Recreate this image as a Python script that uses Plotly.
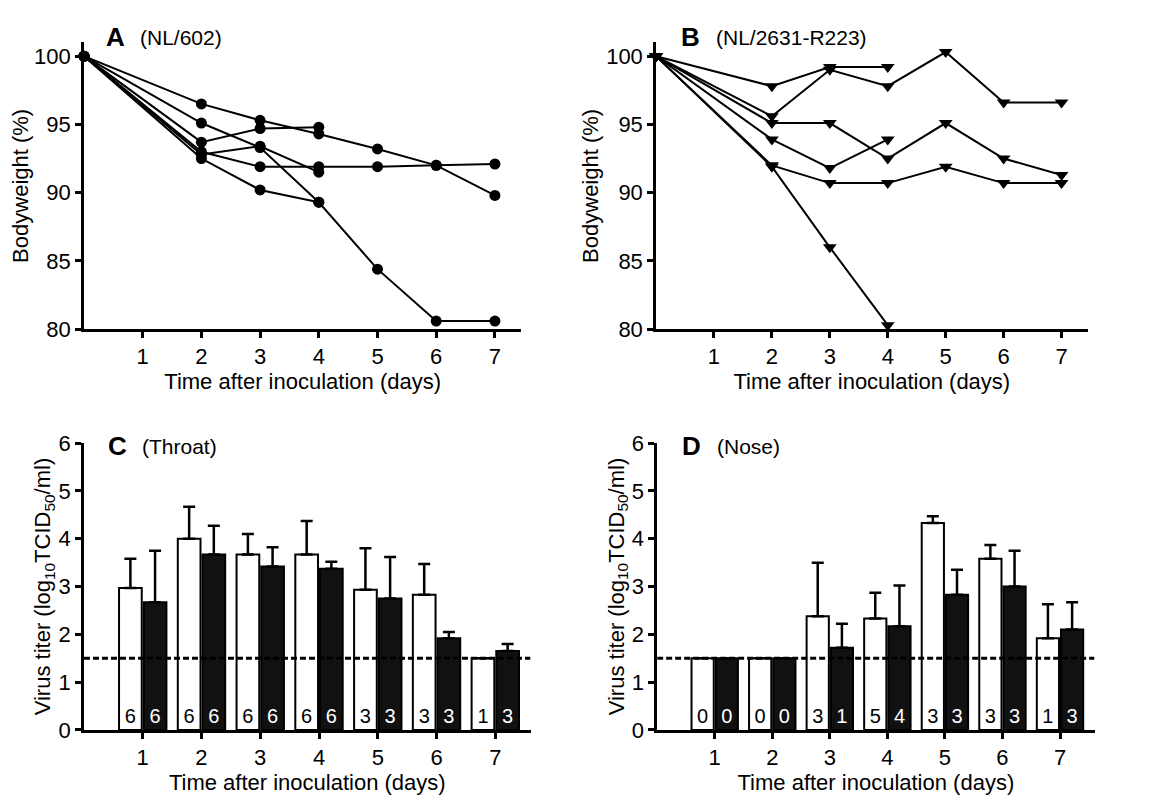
import plotly.graph_objects as go

days = [0, 2, 3, 4, 5, 6, 7]

# panel A (NL/602) bodyweight, one list per animal
a_lines = [
    [100, 96.5, 95.3, 94.3, 93.2, 92.0, 89.8],
    [100, 93.7, 94.7, 94.8],
    [100, 95.1, 93.3, 89.3, 84.4, 80.6, 80.6],
    [100, 93.0, 91.9, 91.9, 91.9, 92.0, 92.1],
    [100, 92.5, 90.2, 89.3],
    [100, 92.8, 93.4, 91.5],
]
# panel B (NL/2631-R223)
b_lines = [
    [100, 97.8, 99.2, 99.2],
    [100, 95.6, 99.0, 97.8, 100.3, 96.6, 96.6],
    [100, 95.1, 95.1, 92.5, 95.1, 92.5, 91.3],
    [100, 93.9, 91.8, 93.9],
    [100, 92.0, 90.7, 90.7, 91.9, 90.7, 90.7],
    [100, 91.9, 86.0, 80.3],
]

bar_days = [1, 2, 3, 4, 5, 6, 7]
c_white = [2.97, 4.0, 3.67, 3.67, 2.93, 2.83, 1.5]
c_white_top = [3.58, 4.67, 4.1, 4.37, 3.8, 3.47, 1.5]
c_black = [2.67, 3.67, 3.42, 3.37, 2.75, 1.92, 1.65]
c_black_top = [3.75, 4.27, 3.82, 3.52, 3.62, 2.05, 1.8]
c_n_white = ["6", "6", "6", "6", "3", "3", "1"]
c_n_black = ["6", "6", "6", "6", "3", "3", "3"]

d_white = [1.5, 1.5, 2.38, 2.33, 4.33, 3.58, 1.92]
d_white_top = [1.5, 1.5, 3.5, 2.87, 4.47, 3.87, 2.63]
d_black = [1.5, 1.5, 1.72, 2.17, 2.83, 3.0, 2.1]
d_black_top = [1.5, 1.5, 2.22, 3.02, 3.35, 3.75, 2.67]
d_n_white = ["0", "0", "3", "5", "3", "3", "1"]
d_n_black = ["0", "0", "1", "4", "3", "3", "3"]

detection_limit = 1.5

FAM = "Liberation Sans, Arial, sans-serif"

fig = go.Figure()

for ys in a_lines:
    fig.add_trace(go.Scatter(x=days[:len(ys)], y=ys, mode="lines+markers",
                             line=dict(color="black", width=2),
                             marker=dict(symbol="circle", size=11, color="black"),
                             cliponaxis=False, xaxis="x", yaxis="y", showlegend=False))
for ys in b_lines:
    fig.add_trace(go.Scatter(x=days[:len(ys)], y=ys, mode="lines+markers",
                             line=dict(color="black", width=2),
                             marker=dict(symbol="triangle-down", size=12, color="black"),
                             cliponaxis=False, xaxis="x2", yaxis="y2", showlegend=False))


def bars(vals, tops, labels, fill, txt, xa, ya):
    return go.Bar(x=bar_days, y=vals, text=labels, textposition="inside",
                  insidetextanchor="start", textangle=0,
                  textfont=dict(color=txt, size=20, family=FAM),
                  marker=dict(color=fill, line=dict(color="black", width=2)),
                  error_y=dict(type="data", symmetric=False,
                               array=[t - v for t, v in zip(tops, vals)],
                               arrayminus=[0] * len(vals),
                               color="black", thickness=2.5, width=6),
                  xaxis=xa, yaxis=ya, showlegend=False)


fig.add_trace(bars(c_white, c_white_top, c_n_white, "white", "black", "x3", "y3"))
fig.add_trace(bars(c_black, c_black_top, c_n_black, "#111111", "white", "x3", "y3"))
fig.add_trace(bars(d_white, d_white_top, d_n_white, "white", "black", "x4", "y4"))
fig.add_trace(bars(d_black, d_black_top, d_n_black, "#111111", "white", "x4", "y4"))

for xa, ya in [("x3", "y3"), ("x4", "y4")]:
    fig.add_shape(type="line", xref=xa, yref=ya, x0=0, x1=7.6,
                  y0=detection_limit, y1=detection_limit,
                  line=dict(color="black", width=3, dash="6px,3px"))

font = dict(family=FAM, size=22, color="black")
ax = dict(showline=True, linecolor="black", linewidth=2.5, ticks="outside",
          tickwidth=2.5, ticklen=6, tickcolor="black", showgrid=False,
          zeroline=False, tickfont=font, title_font=dict(family=FAM, size=22, color="black"))
xticks = dict(tickvals=bar_days, title_text="Time after inoculation (days)", title_standoff=0)

fig.update_layout(
    width=1151, height=800, margin=dict(l=0, r=0, t=0, b=0),
    plot_bgcolor="white", paper_bgcolor="white",
    barmode="group", bargap=0.16, bargroupgap=0.08,
    xaxis=dict(ax, domain=[0.066, 0.446], range=[0, 7.45], anchor="y", **xticks),
    yaxis=dict(ax, domain=[0.601, 0.971], range=[80, 101], tickvals=[80, 85, 90, 95, 100],
               anchor="x", title_text="Bodyweight (%)", title_standoff=2),
    xaxis2=dict(ax, domain=[0.563, 0.938], range=[0, 7.45], anchor="y2", **xticks),
    yaxis2=dict(ax, domain=[0.601, 0.971], range=[80, 101], tickvals=[80, 85, 90, 95, 100],
                anchor="x2", title_text="Bodyweight (%)", title_standoff=2),
    xaxis3=dict(ax, domain=[0.066, 0.454], range=[0, 7.6], anchor="y3", **xticks),
    yaxis3=dict(ax, domain=[0.084, 0.454], range=[0, 6], tickvals=[0, 1, 2, 3, 4, 5, 6],
                anchor="x3", title_text="Virus titer (log<sub>10</sub>TCID<sub>50</sub>/ml)",
                title_standoff=2),
    xaxis4=dict(ax, domain=[0.564, 0.944], range=[0, 7.6], anchor="y4", **xticks),
    yaxis4=dict(ax, domain=[0.084, 0.454], range=[0, 6], tickvals=[0, 1, 2, 3, 4, 5, 6],
                anchor="x4", title_text="Virus titer (log<sub>10</sub>TCID<sub>50</sub>/ml)",
                title_standoff=2),
)

labels = [(0.083, 0.978, "A", "(NL/602)"), (0.583, 0.978, "B", "(NL/2631-R223)"),
          (0.085, 0.45, "C", "(Throat)"), (0.584, 0.45, "D", "(Nose)")]
for x, y, letter, name in labels:
    fig.add_annotation(xref="paper", yref="paper", x=x, y=y, xanchor="left", yanchor="middle",
                       text=f"<b>{letter}</b>", showarrow=False,
                       font=dict(family=FAM, size=26, color="black"))
    fig.add_annotation(xref="paper", yref="paper", x=x + 0.03, y=y, xanchor="left", yanchor="middle",
                       text=name, showarrow=False, font=dict(family=FAM, size=21, color="black"))

fig.write_html("out.html")
